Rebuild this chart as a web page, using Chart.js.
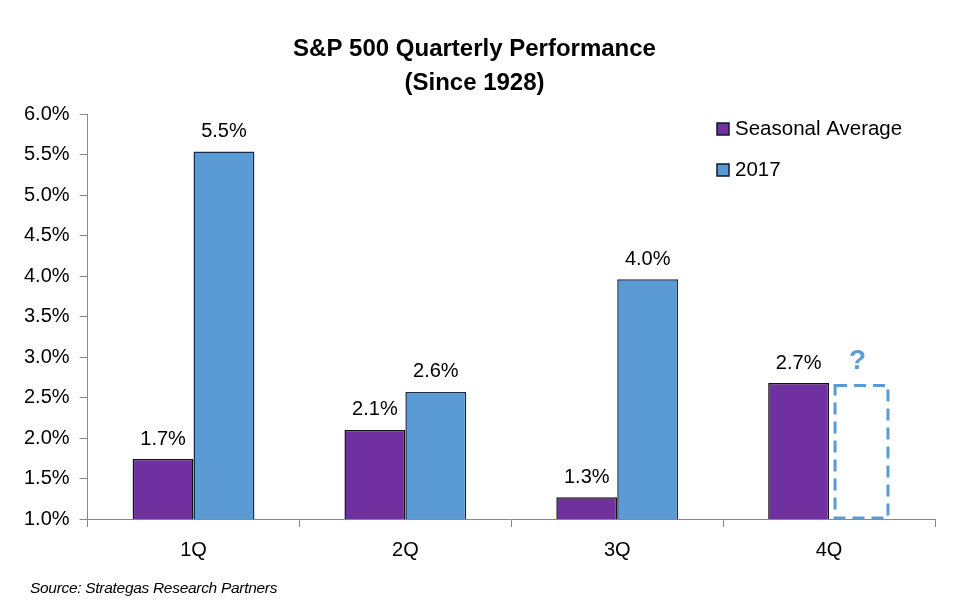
<!DOCTYPE html>
<html>
<head>
<meta charset="utf-8">
<script src="https://cdn.jsdelivr.net/npm/chart.js@4"></script>
<style>
  body { margin: 0; background: #fff; }
  #wrap { position: relative; width: 960px; height: 611px; }
  #source { position: absolute; left: 30px; top: 579px; font: italic 15.5px "Liberation Sans", sans-serif; color: #000; letter-spacing: -0.3px; }
</style>
</head>
<body>
<div id="wrap">
  <canvas id="perfChart" width="960" height="611"></canvas>
  <div id="source">Source: Strategas Research Partners</div>
</div>
<script>
// Quarterly returns
const quarters = ["1Q", "2Q", "3Q", "4Q"];
const seasonalAvg = [1.74, 2.10, 1.27, 2.68];
const year2017 = [5.54, 2.57, 3.96, 2.65];   // 4Q is not known yet -> dashed "?" box
const seasonalLabels = ["1.7%", "2.1%", "1.3%", "2.7%"];
const labels2017 = ["5.5%", "2.6%", "4.0%", "?"];
const yTicks = [1.0, 1.5, 2.0, 2.5, 3.0, 3.5, 4.0, 4.5, 5.0, 5.5, 6.0];

const FONT = "'Liberation Sans', Arial, sans-serif";
const PURPLE = "#7030A0";
const BLUE = "#5B9BD5";

// value labels, dashed box for 4Q and the legend inside the plot
const extras = {
    id: "extras",
    afterDatasetsDraw(chart) {
        const ctx = chart.ctx;
        const bottom = chart.scales.y.getPixelForValue(1);
        ctx.save();
        ctx.textAlign = "center";
        ctx.textBaseline = "bottom";

        chart.getDatasetMeta(0).data.forEach((bar, i) => {
            ctx.font = "20px " + FONT;
            ctx.fillStyle = "#000";
            ctx.fillText(seasonalLabels[i], bar.x, bar.y - 10);
        });

        chart.getDatasetMeta(1).data.forEach((bar, i) => {
            if (i === 3) {
                const w = bar.width - 8;
                const x0 = bar.x - w / 2 + 2;
                ctx.setLineDash([12, 7]);
                ctx.strokeStyle = BLUE;
                ctx.lineWidth = 3;
                ctx.strokeRect(x0, bar.y, w, bottom - bar.y - 1);
                ctx.setLineDash([]);
                ctx.font = "bold 28px " + FONT;
                ctx.fillStyle = BLUE;
                ctx.fillText(labels2017[i], bar.x - 2, bar.y - 10);
            } else {
                ctx.font = "20px " + FONT;
                ctx.fillStyle = "#000";
                ctx.fillText(labels2017[i], bar.x, bar.y - 10);
            }
        });

        // legend
        const items = [["Seasonal Average", PURPLE], ["2017", BLUE]];
        ctx.textAlign = "left";
        ctx.textBaseline = "middle";
        ctx.font = "20.5px " + FONT;
        items.forEach((it, k) => {
            const y = 129 + k * 41;
            ctx.fillStyle = it[1];
            ctx.fillRect(717, y - 6, 12, 12);
            ctx.strokeStyle = "#0d1a33";
            ctx.lineWidth = 1.5;
            ctx.strokeRect(717, y - 6, 12, 12);
            ctx.fillStyle = "#000";
            ctx.fillText(it[0], 735, y);
        });
        ctx.restore();
    }
};

new Chart(document.getElementById("perfChart"), {
    type: "bar",
    data: {
        labels: quarters,
        datasets: [{
            label: "Seasonal Average",
            data: seasonalAvg,
            backgroundColor: PURPLE,
            borderColor: "#111",
            borderWidth: 1.5
        }, {
            label: "2017",
            data: year2017,
            backgroundColor: year2017.map((v, i) => i === 3 ? "rgba(0,0,0,0)" : BLUE),
            borderColor: "#1a2a4a",
            borderWidth: year2017.map((v, i) => i === 3 ? 0 : 1.5)
        }]
    },
    options: {
        responsive: false,
        animation: false,
        layout: { padding: { left: 14, right: 25, top: 0, bottom: 38 } },
        datasets: { bar: { categoryPercentage: 0.575, barPercentage: 1 } },
        plugins: {
            legend: { display: false },
            tooltip: { enabled: false },
            title: {
                display: true,
                text: ["S&P 500 Quarterly Performance", "(Since 1928)"],
                color: "#000",
                font: { family: FONT, size: 24, weight: "bold", lineHeight: 1.4 },
                padding: { top: 33, bottom: 14 }
            }
        },
        scales: {
            x: {
                grid: { display: true, drawOnChartArea: false, offset: true, tickLength: 8, color: "#888" },
                border: { color: "#888" },
                ticks: { color: "#000", font: { family: FONT, size: 20 }, padding: 11 }
            },
            y: {
                min: 1, max: 6,
                afterBuildTicks: axis => { axis.ticks = yTicks.map(v => ({ value: v })); },
                grid: { display: true, drawOnChartArea: false, tickLength: 8, color: "#888" },
                border: { color: "#888" },
                ticks: {
                    color: "#000",
                    font: { family: FONT, size: 20 },
                    padding: 10,
                    callback: v => v.toFixed(1) + "%"
                }
            }
        }
    },
    plugins: [extras]
});
</script>
</body>
</html>
